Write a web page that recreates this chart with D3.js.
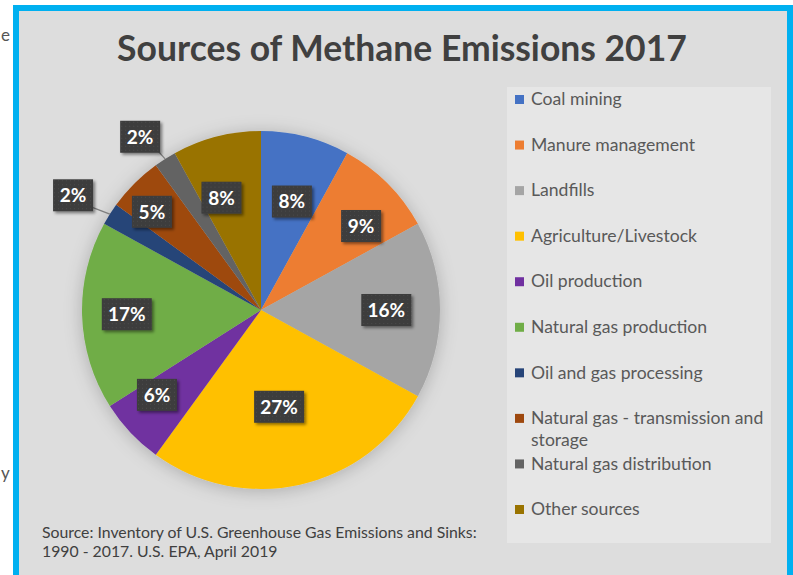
<!DOCTYPE html>
<html>
<head>
<meta charset="utf-8">
<script src="https://cdn.jsdelivr.net/npm/d3@7"></script>
<style>
  body { margin: 0; background: #fff; }
  svg { display: block; }
</style>
</head>
<body>
<script>
// chart data
const categories = ['Coal mining', 'Manure management', 'Landfills', 'Agriculture/Livestock',
    'Oil production', 'Natural gas production', 'Oil and gas processing',
    'Natural gas - transmission and storage', 'Natural gas distribution', 'Other sources'];
const shares = [8, 9, 16, 27, 6, 17, 2, 5, 2, 8];
const sliceColors = ['#4472c4', '#ed7d31', '#a5a5a5', '#ffc000', '#7030a0',
    '#70ad47', '#264478', '#9e480e', '#636363', '#997300'];
// legend lines (the long one wraps)
const legendLines = [['Coal mining'], ['Manure management'], ['Landfills'], ['Agriculture/Livestock'],
    ['Oil production'], ['Natural gas production'], ['Oil and gas processing'],
    ['Natural gas - transmission and', 'storage'], ['Natural gas distribution'], ['Other sources']];
// label placement: distance as a fraction of the radius, and a nudge in degrees
const labelRadius = [0.63, 0.73, 0.70, 0.55, 0.75, 0.75, 1.23, 0.82, 1.18, 0.665];
const labelNudge = [1.5, 5, 0, 2, 4, 0, -1, -3, -2.5, -5];
const titleText = 'Sources of Methane Emissions 2017';
const sourceLines = ['Source: Inventory of U.S. Greenhouse Gas Emissions and Sinks:',
    '1990 - 2017. U.S. EPA, April 2019'];

const width = 793, height = 575;
const font = 'Lato, "Open Sans", sans-serif';

const svg = d3.select('body').append('svg')
    .attr('width', width)
    .attr('height', height);

const defs = svg.append('defs');
const pieShadow = defs.append('filter').attr('id', 'pieShadow')
    .attr('x', '-20%').attr('y', '-20%').attr('width', '140%').attr('height', '140%');
pieShadow.append('feDropShadow').attr('dx', 0).attr('dy', 2)
    .attr('stdDeviation', 9).attr('flood-color', '#000').attr('flood-opacity', 0.22);

const boxShadow = defs.append('filter').attr('id', 'boxShadow')
    .attr('x', '-30%').attr('y', '-30%').attr('width', '170%').attr('height', '170%');
boxShadow.append('feDropShadow').attr('dx', 2).attr('dy', 2)
    .attr('stdDeviation', 1.6).attr('flood-color', '#000').attr('flood-opacity', 0.45);

const dots = defs.append('pattern').attr('id', 'dots')
    .attr('width', 4).attr('height', 4).attr('patternUnits', 'userSpaceOnUse');
dots.append('rect').attr('width', 4).attr('height', 4).attr('fill', '#3d3d3d');
dots.append('rect').attr('x', 1).attr('y', 1).attr('width', 1).attr('height', 1).attr('fill', '#4b4b4b');

// stray text of the surrounding page
svg.append('text').attr('x', 1).attr('y', 41).attr('font-family', font)
    .attr('font-size', 17).attr('fill', '#555').text('e');
svg.append('text').attr('x', 1).attr('y', 479).attr('font-family', font)
    .attr('font-size', 17).attr('fill', '#555').text('y');

// chart frame
svg.append('rect')
    .attr('x', 16).attr('y', 8).attr('width', 774).attr('height', 580)
    .attr('fill', '#dddddd')
    .attr('stroke', '#00b0f0').attr('stroke-width', 6);

svg.append('text')
    .attr('x', 402).attr('y', 61)
    .attr('text-anchor', 'middle')
    .attr('font-family', font).attr('font-weight', 700)
    .attr('font-size', 35.5).attr('fill', '#404040')
    .text(titleText);

// pie
const cx = 261, cy = 310, radius = 179;
const pie = d3.pie().sort(null).value((d) => d);
const arcs = pie(shares);
const arc = d3.arc().innerRadius(0).outerRadius(radius);

const g = svg.append('g').attr('transform', `translate(${cx},${cy})`);
g.append('g').attr('filter', 'url(#pieShadow)')
    .selectAll('path')
    .data(arcs)
    .enter()
    .append('path')
    .attr('d', arc)
    .attr('fill', (d, i) => sliceColors[i]);

// data labels
const midAngle = (d) => (d.startAngle + d.endAngle) / 2;
const labelPos = (d, i) => {
    const a = midAngle(d) + labelNudge[i] * Math.PI / 180;
    const r = radius * labelRadius[i];
    return [Math.sin(a) * r, -Math.cos(a) * r];
};

arcs.forEach((d, i) => {
    if (labelRadius[i] <= 1) return;
    const a = midAngle(d);
    const [lx, ly] = labelPos(d, i);
    g.append('line')
        .attr('x1', Math.sin(a) * radius).attr('y1', -Math.cos(a) * radius)
        .attr('x2', lx + 14).attr('y2', ly + 10)
        .attr('stroke', '#7f7f7f').attr('stroke-width', 1.3);
});

const labels = g.selectAll('g.lbl')
    .data(arcs)
    .enter()
    .append('g')
    .attr('class', 'lbl')
    .attr('transform', (d, i) => `translate(${labelPos(d, i)})`);

labels.append('rect')
    .attr('x', (d) => d.data >= 10 ? -25 : -20)
    .attr('y', -16)
    .attr('width', (d) => d.data >= 10 ? 50 : 40)
    .attr('height', 32)
    .attr('fill', 'url(#dots)')
    .attr('filter', 'url(#boxShadow)');

labels.append('text')
    .attr('text-anchor', 'middle')
    .attr('dy', '0.36em')
    .attr('font-family', font).attr('font-weight', 700)
    .attr('font-size', 19).attr('fill', '#fff')
    .text((d) => `${d.data}%`);

// legend
svg.append('rect')
    .attr('x', 507).attr('y', 87).attr('width', 264).attr('height', 456)
    .attr('fill', '#e6e6e6');

const legendY = d3.scalePoint().domain(categories).range([99, 509]);
const legend = svg.selectAll('g.leg')
    .data(categories)
    .enter()
    .append('g')
    .attr('class', 'leg')
    .attr('transform', (c) => `translate(515,${legendY(c)})`);

legend.append('rect')
    .attr('x', 0).attr('y', -4).attr('width', 9).attr('height', 9)
    .attr('fill', (c, i) => sliceColors[i]);

legend.append('text')
    .attr('font-family', font).attr('font-size', 17.6).attr('fill', '#595959')
    .selectAll('tspan')
    .data((c, i) => legendLines[i])
    .enter()
    .append('tspan')
    .attr('x', 16)
    .attr('y', (t, j) => j * 22)
    .attr('dy', '0.35em')
    .text((t) => t);

// source note
svg.append('text')
    .attr('font-family', font).attr('font-size', 15.8).attr('fill', '#404040')
    .selectAll('tspan')
    .data(sourceLines)
    .enter()
    .append('tspan')
    .attr('x', 42)
    .attr('y', (t, j) => 538 + j * 19)
    .text((t) => t);
</script>
</body>
</html>
